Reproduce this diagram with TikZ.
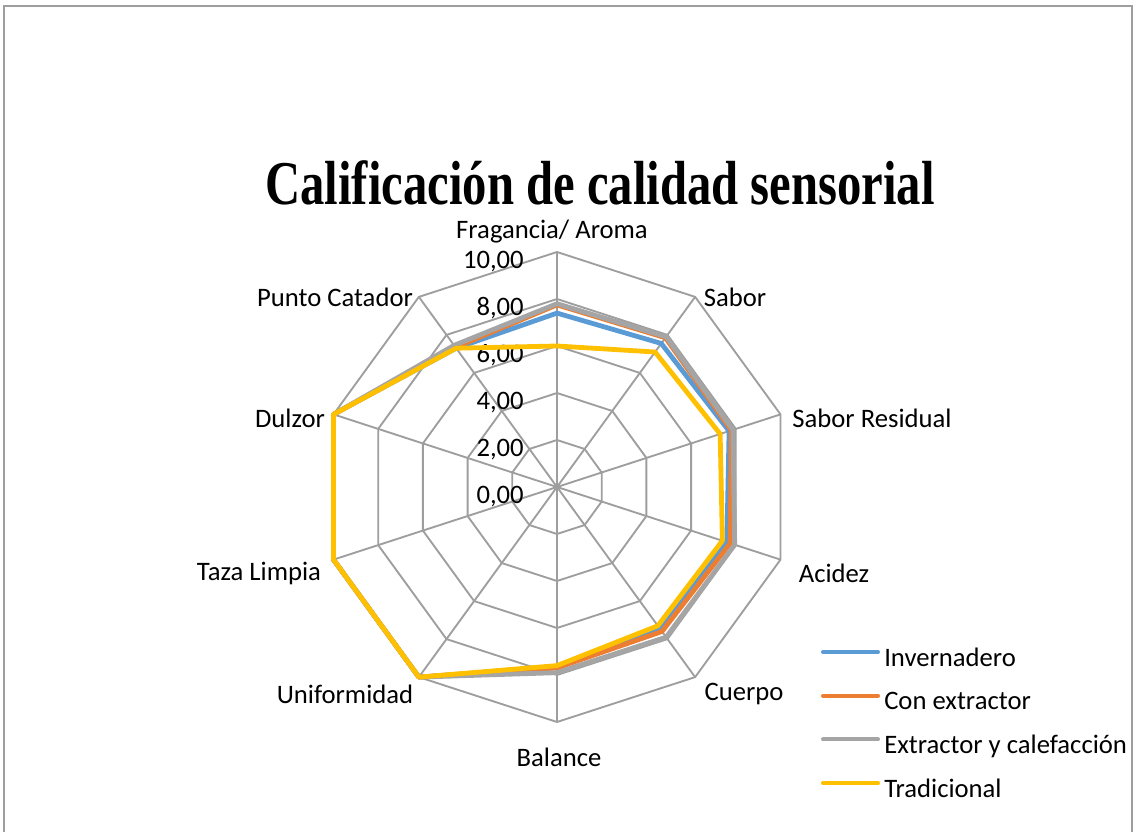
\documentclass[tikz,border=0pt]{standalone}
\usepackage{fontspec}
\setmainfont{Carlito}
\newfontfamily\titlefont{Liberation Serif}
\definecolor{invblue}{RGB}{91,155,213}
\definecolor{extorange}{RGB}{237,125,49}
\definecolor{calgray}{RGB}{165,165,165}
\definecolor{tradyellow}{RGB}{255,192,0}
\definecolor{gridgray}{RGB}{158,158,158}

\begin{document}
\begin{tikzpicture}[x=0.75pt,y=0.75pt,
    grid/.style={draw=gridgray,line width=1.4pt},
    series/.style={line width=3.6pt,line join=round},
    lab/.style={font=\fontsize{20}{24}\selectfont,inner sep=0pt}]
\useasboundingbox (-557,-345) rectangle (577,487);
\draw[gridgray,line width=1.2pt] (-553,-345) -- (-553,481) -- (575,481) -- (575,-345);
% title
\node[anchor=base] (title) at (43,282)
  {\scalebox{1}[1.28]{\titlefont\bfseries\fontsize{36.5}{40}\selectfont Calificación de calidad sensorial}};

% rings and spokes
\coordinate (c) at (0,0);
\foreach \r in {1,...,5}
  \draw[grid] (90:47*\r) \foreach \i in {1,...,9} {-- (90-36*\i:47*\r)} -- cycle;
\foreach \i in {0,...,9}
  \draw[grid] (c) -- (90-36*\i:235) coordinate (v\i);

% scale
\foreach \v in {0,2,4,6,8,10}
  \node[lab,anchor=east] (t\v) at (-33,23.5*\v-9.5) {\v,00};

% axis labels
\node[lab] (frag) at (-5,255) {Fragancia/ Aroma};
\node[lab] (sabor) at (178,190) {Sabor};
\node[lab] (resid) at (315,69) {Sabor Residual};
\node[lab] (acidez) at (277,-86) {Acidez};
\node[lab] (cuerpo) at (187,-207) {Cuerpo};
\node[lab] (balance) at (2,-270) {Balance};
\node[lab] (unif) at (-212,-207) {Uniformidad};
\node[lab] (taza) at (-298,-86) {Taza Limpia};
\node[lab] (dulzor) at (-267,69) {Dulzor};
\node[lab] (punto) at (-222,190) {Punto Catador};

% series
\foreach \col/\vals in {invblue/{7.4,7.55,7.7,7.6,7.45,7.65,10,10,10,7.3},
    extorange/{7.75,7.85,7.8,7.75,7.6,7.7,10,10,10,7.35},
    calgray/{7.8,7.9,7.87,7.95,7.9,7.9,10,10,10,7.45},
    tradyellow/{6.0,7.1,7.3,7.4,7.3,7.6,10,10,10,7.3}} {
  \foreach \v [count=\k from 0] in \vals
    \coordinate (p\k) at (90-36*\k:23.5*\v);
  \draw[series,\col] (p0) \foreach \k in {1,...,9} {-- (p\k)} -- cycle;
}

% legend
\foreach \col/\name [count=\k from 0] in {invblue/Invernadero,
    extorange/Con extractor, calgray/Extractor y calefacción,
    tradyellow/Tradicional} {
  \draw[\col,line width=3pt,line cap=round] (266,-165-43.7*\k) coordinate (l\k) -- ++(55,0);
  \node[lab,anchor=base west] (leg\k) at (327,-179-43.7*\k) {\name};
}
\end{tikzpicture}
\end{document}
